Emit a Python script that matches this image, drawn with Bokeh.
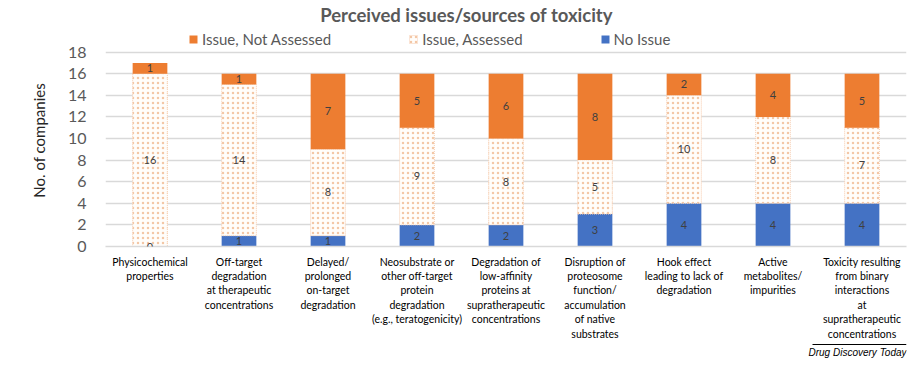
from bokeh.plotting import figure
from bokeh.layouts import column
from bokeh.models import (ColumnDataSource, Legend, LegendItem, LabelSet, Label,
                          FactorRange, Range1d, FixedTicker)
from bokeh.core.properties import value
from bokeh.embed import file_html
from bokeh.resources import INLINE

categories = [
    "Physicochemical\nproperties",
    "Off-target\ndegradation\nat therapeutic\nconcentrations",
    "Delayed/\nprolonged\non-target\ndegradation",
    "Neosubstrate or\nother off-target\nprotein\ndegradation\n(e.g., teratogenicity)",
    "Degradation of\nlow-affinity\nproteins at\nsupratherapeutic\nconcentrations",
    "Disruption of\nproteosome\nfunction/\naccumulation\nof native\nsubstrates",
    "Hook effect\nleading to lack of\ndegradation",
    "Active\nmetabolites/\nimpurities",
    "Toxicity resulting\nfrom binary\ninteractions\nat\nsupratherapeutic\nconcentrations",
]
no_issue = [0, 1, 1, 2, 2, 3, 4, 4, 4]
issue_assessed = [16, 14, 8, 9, 8, 5, 10, 8, 7]
issue_not_assessed = [1, 1, 7, 5, 6, 8, 2, 4, 5]
y_ticks = [0, 2, 4, 6, 8, 10, 12, 14, 16, 18]
series_names = ["Issue, Not Assessed", "Issue, Assessed", "No Issue"]
title_text = "Perceived issues/sources of toxicity"
y_title = "No. of companies"
credit_text = "Drug Discovery Today"

FONT = "Lato"
ORANGE = "#ED7D31"
BLUE = "#4472C4"

# layout (pixels)
FRAME_H = 248          # frame spans from top of canvas down to the zero line
AXIS_PX = 196          # pixel height of the 0..18 value axis
Y_MAX_SHOWN = 18
y_top = Y_MAX_SHOWN * FRAME_H / AXIS_PX
LEFT, RIGHT_BORDER, W = 105, 11, 917

b1 = [0] * len(categories)
t1 = [a for a in no_issue]
t2 = [a + b for a, b in zip(t1, issue_assessed)]
t3 = [a + b for a, b in zip(t2, issue_not_assessed)]

src = ColumnDataSource(dict(
    cat=categories, b1=b1, t1=t1, t2=t2, t3=t3,
    m1=[(a + b) / 2 for a, b in zip(b1, t1)],
    m2=[(a + b) / 2 for a, b in zip(t1, t2)],
    m3=[(a + b) / 2 for a, b in zip(t2, t3)],
    l1=[str(v) for v in no_issue],
    l2=[str(v) for v in issue_assessed],
    l3=[str(v) for v in issue_not_assessed],
))

p = figure(width=W, height=342, x_range=FactorRange(*categories),
           y_range=Range1d(0, y_top), output_backend="svg", toolbar_location=None,
           min_border_left=LEFT, min_border_right=RIGHT_BORDER, min_border_top=0,
           min_border_bottom=94)
p.outline_line_color = None
p.background_fill_color = "white"

r1 = p.vbar(x="cat", bottom="b1", top="t1", width=0.39, source=src,
            fill_color=BLUE, line_color=None)
r2 = p.vbar(x="cat", bottom="t1", top="t2", width=0.39, source=src,
            fill_color="#FFFDFA", line_color="#F6CDB0", line_dash="1 1",
            line_width=1, hatch_pattern="dot", hatch_color="#F3C7A6",
            hatch_scale=5, hatch_weight=1.1)
r3 = p.vbar(x="cat", bottom="t2", top="t3", width=0.39, source=src,
            fill_color=ORANGE, line_color=None)

for col, mcol in (("l1", "m1"), ("l2", "m2"), ("l3", "m3")):
    p.add_layout(LabelSet(x="cat", y=mcol, text=col, source=src,
                          text_align="center", text_baseline="middle",
                          text_font=value(FONT), text_font_size="11px",
                          text_color="#404040"))

p.ygrid.grid_line_color = "#D9D9D9"
p.ygrid.grid_line_width = 1.5
p.xgrid.grid_line_color = None

p.yaxis.ticker = FixedTicker(ticks=y_ticks)
p.yaxis.axis_line_color = None
p.yaxis.major_tick_line_color = None
p.yaxis.minor_tick_line_color = None
p.yaxis.major_label_text_font = FONT
p.yaxis.major_label_text_font_size = "16px"
p.yaxis.major_label_text_color = "#595959"
p.yaxis.major_label_standoff = 13
# em spaces after the text move the centred label down to the 0..18 span
p.yaxis.axis_label = y_title + "\u2003\u2003\u2003"
p.yaxis.axis_label_text_font = FONT
p.yaxis.axis_label_text_font_size = "15px"
p.yaxis.axis_label_text_font_style = "normal"
p.yaxis.axis_label_text_color = "#262626"
p.yaxis.axis_label_standoff = 17

p.xaxis.axis_line_color = "#D9D9D9"
p.xaxis.axis_line_width = 1.5
p.xaxis.major_tick_line_color = None
p.xaxis.minor_tick_line_color = None
p.xaxis.major_label_text_font = FONT
p.xaxis.major_label_text_font_size = "10.5px"
p.xaxis.major_label_text_color = "#000000"
p.xaxis.major_label_standoff = 3

legend = Legend(items=[
    LegendItem(label=series_names[0], renderers=[r3]),
    LegendItem(label=series_names[1], renderers=[r2]),
    LegendItem(label=series_names[2], renderers=[r1]),
], orientation="horizontal", location=(83, 198), spacing=77,
    glyph_width=10, glyph_height=10, label_standoff=4, padding=0, margin=0,
    label_text_font=FONT, label_text_font_size="15px",
    label_text_color="#595959", border_line_color=None,
    background_fill_alpha=0)
p.add_layout(legend, "center")

p.add_layout(Label(x=361, y=232, x_units="screen", y_units="screen",
                   text=title_text, text_align="center", text_baseline="middle",
                   text_font=FONT, text_font_size="18.5px",
                   text_font_style="bold", text_color="#595959"))

# ---- footer: credit line (frame aligned with the chart's frame)
foot = figure(width=W, height=26, x_range=Range1d(LEFT, W - RIGHT_BORDER),
              y_range=Range1d(0, 26), output_backend="svg", toolbar_location=None,
              min_border_left=LEFT, min_border_right=RIGHT_BORDER,
              min_border_top=0, min_border_bottom=0,
              x_axis_location=None, y_axis_location=None)
foot.grid.visible = False
foot.outline_line_color = None
foot.segment(x0=[812], y0=[24], x1=[W - RIGHT_BORDER], y1=[24],
             line_color="black", line_width=1)
foot.text(x=[W - RIGHT_BORDER], y=[16], text=[credit_text], text_align="right",
          text_baseline="middle", text_font=value("Liberation Sans"),
          text_font_size="10px", text_font_style="italic", text_color="black")

layout = column(p, foot, spacing=0)
open("out.html", "w").write(file_html(layout, INLINE))
